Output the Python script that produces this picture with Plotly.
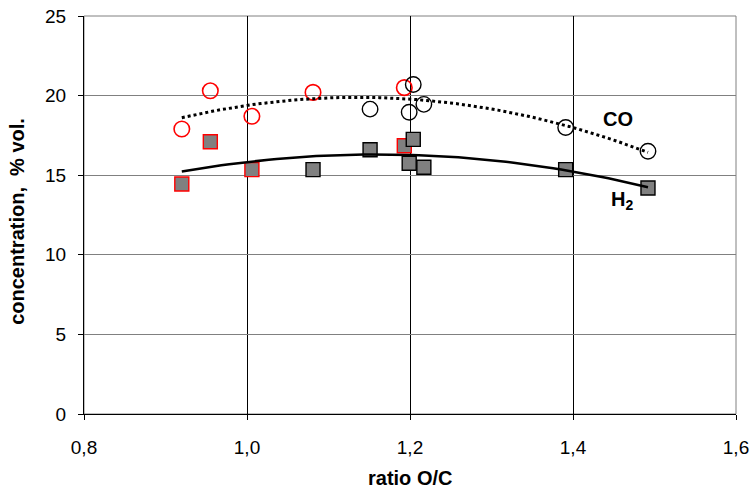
import numpy as np
import plotly.graph_objects as go

# CO points (red-edged group and black-edged group)
co_red_x = [0.920, 0.955, 1.006, 1.081, 1.193]
co_red_y = [17.9, 20.3, 18.7, 20.2, 20.5]
co_blk_x = [1.151, 1.204, 1.199, 1.217, 1.391, 1.492]
co_blk_y = [19.15, 20.7, 18.95, 19.45, 18.0, 16.5]

# H2 points
h2_red_x = [0.920, 0.955, 1.006, 1.193]
h2_red_y = [14.45, 17.1, 15.35, 16.85]
h2_blk_x = [1.081, 1.151, 1.204, 1.199, 1.217, 1.391, 1.492]
h2_blk_y = [15.35, 16.6, 17.25, 15.75, 15.5, 15.35, 14.2]

x_ticks = [0.8, 1.0, 1.2, 1.4, 1.6]
y_ticks = [0, 5, 10, 15, 20, 25]

FONT = "Liberation Sans, Arial, sans-serif"

def trend(xs, ys):
    c = np.polyfit(xs, ys, 2)
    xx = np.linspace(min(xs), max(xs), 60)
    return xx, np.polyval(c, xx)

fig = go.Figure()

fig.add_trace(go.Scatter(x=co_red_x, y=co_red_y, mode="markers",
    marker=dict(symbol="circle-open", size=15.5, color="#ff0000", line=dict(width=1.6, color="#ff0000"))))
fig.add_trace(go.Scatter(x=co_blk_x, y=co_blk_y, mode="markers",
    marker=dict(symbol="circle-open", size=15.5, color="#000000", line=dict(width=1.4, color="#000000"))))
fig.add_trace(go.Scatter(x=h2_red_x, y=h2_red_y, mode="markers",
    marker=dict(symbol="square", size=14, color="#808080", line=dict(width=1.4, color="#ff0000"))))
fig.add_trace(go.Scatter(x=h2_blk_x, y=h2_blk_y, mode="markers",
    marker=dict(symbol="square", size=14, color="#808080", line=dict(width=1.4, color="#000000"))))

cx, cy = trend(co_red_x + co_blk_x, co_red_y + co_blk_y)
fig.add_trace(go.Scatter(x=cx, y=cy, mode="lines",
    line=dict(color="black", width=3, dash="dot")))
hx, hy = trend(h2_red_x + h2_blk_x, h2_red_y + h2_blk_y)
fig.add_trace(go.Scatter(x=hx, y=hy, mode="lines",
    line=dict(color="black", width=2.5)))

fig.add_annotation(x=1.455, y=18.55, text="<b>CO</b>", showarrow=False,
    font=dict(family=FONT, size=20, color="black"))
fig.add_annotation(x=1.46, y=13.4, text="<b>H<sub>2</sub></b>", showarrow=False,
    font=dict(family=FONT, size=20, color="black"))

# axis titles
fig.add_annotation(xref="paper", yref="paper", x=0.5, y=-0.162, yanchor="middle",
    text="<b>ratio O/C</b>", showarrow=False, font=dict(family=FONT, size=20, color="black"))
fig.add_annotation(xref="paper", yref="paper", x=-0.103, y=0.485, textangle=-90,
    xanchor="center", yanchor="middle",
    text="<b>concentration,&nbsp; % vol.</b>", showarrow=False,
    font=dict(family=FONT, size=20, color="black"))

fig.update_layout(
    width=751, height=490,
    margin=dict(l=84, r=15, t=16, b=76, autoexpand=False),
    paper_bgcolor="white", plot_bgcolor="white",
    showlegend=False,
    separators=", ",
    font=dict(family=FONT, size=19, color="black"),
    xaxis=dict(range=[0.8, 1.6], tickvals=x_ticks, tickformat=".1f",
               automargin=False, ticklabelstandoff=11,
               showgrid=True, gridcolor="black", gridwidth=1,
               showline=True, linecolor="black", linewidth=1,
               ticks="outside", ticklen=5, tickcolor="black",
               zeroline=False),
    yaxis=dict(range=[0, 25], tickvals=y_ticks,
               automargin=False, ticklabelstandoff=8,
               showgrid=True, gridcolor="#808080", gridwidth=1,
               showline=True, linecolor="black", linewidth=1,
               ticks="outside", ticklen=5, tickcolor="black",
               zeroline=False),
)
fig.add_shape(type="rect", xref="paper", yref="paper", x0=0, y0=0, x1=1, y1=1,
              line=dict(color="#808080", width=1), layer="below")

fig.write_html("out.html", config={"displayModeBar": False},
               post_script="document.body.style.margin='0px';")
